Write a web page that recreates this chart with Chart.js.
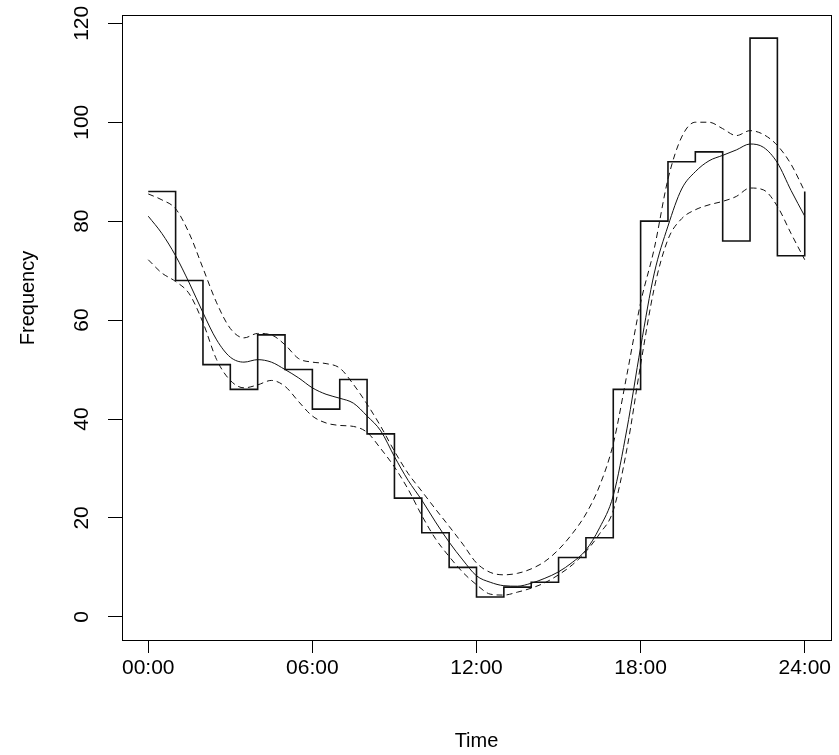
<!DOCTYPE html>
<html>
<head>
<meta charset="utf-8">
<script src="https://cdn.jsdelivr.net/npm/chart.js@4/dist/chart.umd.min.js"></script>
<style>
  body{margin:0;background:#fff}
  .wrap{width:839px;height:755px;position:relative}
</style>
</head>
<body>
<div class="wrap"><canvas id="c"></canvas></div>
<script>
// hourly counts, last point repeats hour 0 (closing step at 24:00)
const stepHours = [0,1,2,3,4,5,6,7,8,9,10,11,12,13,14,15,16,17,18,19,20,21,22,23,24];
const counts    = [86,68,51,46,57,50,42,48,37,24,17,10,4,6,7,12,16,46,80,92,94,76,117,73,86];

// smoothed fit and its band, read every half hour
const curveHours = [0,0.5,1,1.5,2,2.5,3,3.5,4,4.5,5,5.5,6,6.5,7,7.5,8,8.5,9,9.5,10,10.5,11,11.5,12,
                    12.5,13,13.5,14,14.5,15,15.5,16,16.5,17,17.5,18,18.5,19,19.5,20,20.5,21,21.5,22,22.5,23,23.5,24];
const fitMid   = [81,77.5,73,67.5,61.5,56,52.5,51.5,52,51.5,50,48.3,46.3,45,44.2,43.2,40.6,37.6,32.4,27.6,23.6,19.2,15.1,11.5,8.3,
                  7,6.3,6.2,6.8,7.8,9.1,11,13.5,18,24.5,38,54.5,69.5,79,86.5,90,92.2,93.3,94.4,95.6,94.9,91.8,86.2,81];
const fitUpper = [85.5,84.3,82.5,77.5,70.5,63.5,58.3,56.4,57.3,57,55,52.2,51.5,51.2,50.3,47,43,38.5,33.5,29,25.4,21.8,18.3,14.7,10.9,
                  9,8.5,8.8,9.7,11.2,13.6,16.8,20.8,26.5,35,49,63.5,74.5,88.5,97,100,100,98.7,97.3,98.3,97.5,95.3,91.5,86];
const fitLower = [72.2,69.5,67.8,65.3,59.5,52,47.8,46.3,46.9,47.8,46.6,43.5,40.6,39.2,38.7,38.5,37.3,34,30.3,25.8,20.5,15.8,12.2,9,6.5,
                  4.6,4.4,5,5.8,6.9,8.5,10.5,13.2,16.8,21.5,34,51,66.5,76.3,80.5,82.3,83.3,84,85,86.7,86.3,83,77.5,72.2];

const xTickValues = [0,6,12,18,24];
const xTickLabels = ['00:00','06:00','12:00','18:00','24:00'];
const yTickValues = [0,20,40,60,80,100,120];

const pts = (xs, ys) => xs.map((x,i) => ({x:x, y:ys[i]}));

const font = {family:'"Liberation Sans", Arial, sans-serif', size:20};
const tickFont = {family:'"Liberation Sans", Arial, sans-serif', size:21};

// frame round the plot + y title (sits a bit above plot centre in the original)
const boxPlugin = {
  id:'box',
  afterDatasetsDraw(chart){
    const a = chart.chartArea, ctx = chart.ctx;
    ctx.save();
    ctx.strokeStyle = '#000';
    ctx.lineWidth = 1;
    ctx.strokeRect(Math.round(a.left)+0.5, Math.round(a.top)+0.5,
                   Math.round(a.right-a.left), Math.round(a.bottom-a.top));
    ctx.restore();
  },
  afterDraw(chart){
    const ctx = chart.ctx;
    ctx.save();
    ctx.fillStyle = '#000';
    ctx.font = '20px "Liberation Sans", Arial, sans-serif';
    ctx.textAlign = 'center';
    ctx.textBaseline = 'middle';
    ctx.translate(28, 298);
    ctx.rotate(-Math.PI/2);
    ctx.fillText('Frequency', 0, 0);
    ctx.restore();
  }
};

new Chart(document.getElementById('c'), {
  type:'line',
  data:{
    datasets:[
      {data:pts(stepHours,counts), stepped:'before', borderColor:'#111', borderWidth:1.6, pointRadius:0},
      {data:pts(curveHours,fitMid), borderColor:'#111', borderWidth:1, pointRadius:0, cubicInterpolationMode:'monotone'},
      {data:pts(curveHours,fitUpper), borderColor:'#111', borderWidth:1, borderDash:[6,4], pointRadius:0, cubicInterpolationMode:'monotone'},
      {data:pts(curveHours,fitLower), borderColor:'#111', borderWidth:1, borderDash:[6,4], pointRadius:0, cubicInterpolationMode:'monotone'}
    ]
  },
  options:{
    responsive:true,
    maintainAspectRatio:false,
    animation:false,
    layout:{padding:{top:15,right:8,left:0,bottom:0}},
    plugins:{legend:{display:false}, tooltip:{enabled:false}},
    scales:{
      x:{
        type:'linear', min:-0.96, max:24.96,
        afterBuildTicks(s){ s.ticks = xTickValues.map(v => ({value:v})); },
        afterFit(s){ s.height = 115; s.paddingLeft = 0; s.paddingRight = 0; },
        ticks:{color:'#000', font:tickFont, padding:3, maxRotation:0,
               callback:(v) => xTickLabels[xTickValues.indexOf(v)]},
        grid:{drawOnChartArea:false, drawTicks:true, tickLength:13, tickColor:'#000', tickWidth:1},
        border:{display:false},
        title:{display:true, text:'Time', color:'#000', font:font, padding:{top:0,bottom:2}}
      },
      y:{
        type:'linear', min:-4.68, max:121.68,
        afterBuildTicks(s){ s.ticks = yTickValues.map(v => ({value:v})); },
        afterFit(s){ s.width = 122; s.paddingTop = 0; s.paddingBottom = 0; },
        ticks:{color:'#000', font:tickFont, padding:8, minRotation:90, maxRotation:90, crossAlign:'center'},
        grid:{drawOnChartArea:false, drawTicks:true, tickLength:14, tickColor:'#000', tickWidth:1},
        border:{display:false},
        title:{display:false}
      }
    }
  },
  plugins:[boxPlugin]
});
</script>
</body>
</html>
